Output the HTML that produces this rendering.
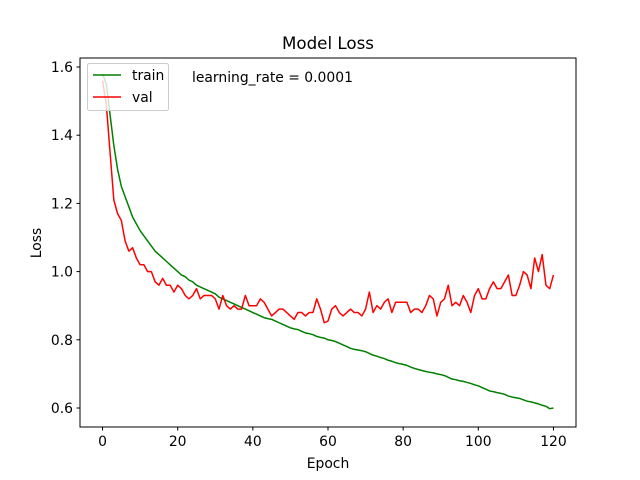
<!DOCTYPE html>
<html><head><meta charset="utf-8"><style>body{margin:0;background:#fff}svg{display:block;font-family:"DejaVu Sans","Liberation Sans",sans-serif}</style></head>
<body>
<svg id="c" width="640" height="480">
<rect width="640" height="480" fill="#fff"/>
<text x="328" y="49" font-size="16.7" text-anchor="middle">Model Loss</text>
<text x="328" y="468" font-size="13.9" text-anchor="middle">Epoch</text>
<text x="41" y="243" font-size="13.9" text-anchor="middle" transform="rotate(-90 41 243)">Loss</text>
<g id="ticks"></g>
<g id="lines"></g>
<rect x="80" y="58" width="496" height="369" fill="none" stroke="#000" stroke-width="1"/>
<g>
<rect x="87.5" y="63.5" width="81" height="47" rx="2" fill="#fff" fill-opacity="0.8" stroke="#ccc"/>
<line x1="93" y1="75" x2="121" y2="75" stroke="#008000" stroke-width="1.5"/>
<text x="132" y="80" font-size="13.9">train</text>
<line x1="93" y1="97" x2="121" y2="97" stroke="#ff0000" stroke-width="1.5"/>
<text x="132" y="102" font-size="13.9">val</text>
</g>
<text x="192" y="82" font-size="13.9">learning_rate = 0.0001</text>
</svg>
<script>
const trainLoss=[1.58,1.55,1.46,1.37,1.30,1.25,1.22,1.19,1.16,1.14,1.12,1.105,1.09,1.075,1.06,1.05,1.04,1.03,1.02,1.01,1.00,0.99,0.985,0.975,0.97,0.96,0.955,0.95,0.945,0.94,0.935,0.925,0.92,0.915,0.91,0.905,0.90,0.895,0.89,0.885,0.88,0.875,0.87,0.865,0.862,0.86,0.855,0.85,0.845,0.84,0.835,0.832,0.83,0.825,0.82,0.818,0.815,0.81,0.807,0.805,0.80,0.798,0.795,0.79,0.785,0.78,0.775,0.772,0.77,0.768,0.765,0.76,0.755,0.752,0.748,0.745,0.74,0.737,0.733,0.73,0.728,0.725,0.72,0.716,0.713,0.71,0.707,0.705,0.703,0.70,0.698,0.695,0.69,0.685,0.683,0.68,0.678,0.675,0.672,0.668,0.665,0.66,0.655,0.65,0.648,0.645,0.643,0.64,0.635,0.632,0.63,0.628,0.624,0.62,0.618,0.615,0.612,0.608,0.605,0.598,0.60];
const valLoss=[1.56,1.49,1.35,1.21,1.17,1.15,1.09,1.06,1.07,1.04,1.02,1.02,1.00,1.00,0.97,0.96,0.98,0.96,0.96,0.94,0.96,0.95,0.93,0.92,0.93,0.95,0.92,0.93,0.93,0.93,0.92,0.89,0.93,0.90,0.89,0.90,0.89,0.89,0.93,0.90,0.90,0.90,0.92,0.91,0.89,0.87,0.88,0.89,0.89,0.88,0.87,0.86,0.88,0.88,0.87,0.88,0.88,0.92,0.89,0.85,0.855,0.89,0.90,0.88,0.87,0.88,0.89,0.88,0.88,0.87,0.89,0.94,0.88,0.90,0.89,0.91,0.92,0.88,0.91,0.91,0.91,0.91,0.88,0.89,0.89,0.88,0.90,0.93,0.92,0.87,0.91,0.92,0.96,0.90,0.91,0.90,0.93,0.91,0.88,0.93,0.95,0.92,0.92,0.95,0.97,0.95,0.95,0.97,0.99,0.93,0.93,0.96,1.00,0.99,0.95,1.04,1.00,1.05,0.96,0.95,0.99];
const xTicks=[0,20,40,60,80,100,120];
const yTicks=[0.6,0.8,1.0,1.2,1.4,1.6];
const NS="http://www.w3.org/2000/svg";
function xs(v){return 80+(v+6)*496/132;}
function ys(v){return 67+(1.6-v)*341;}
const tg=document.getElementById('ticks');
function mk(t,a,p){const e=document.createElementNS(NS,t);for(const k in a)e.setAttribute(k,a[k]);p.appendChild(e);return e;}
xTicks.forEach(v=>{
 const l=mk('line',{x1:xs(v),x2:xs(v),y1:427,y2:430.5,stroke:'#000'},tg);
 
 
 const t=mk('text',{x:xs(v),y:446,'font-size':13.9,'text-anchor':'middle'},tg);t.textContent=v;
 
 
});
yTicks.forEach(v=>{
 const l=mk('line',{x1:76.5,x2:80,y1:ys(v),y2:ys(v),stroke:'#000'},tg);
 
 
 const t=mk('text',{x:73,y:ys(v)+5,'font-size':13.9,'text-anchor':'end'},tg);t.textContent=v.toFixed(1);
 
 
});
const lg=document.getElementById('lines');
function line(d,c,n){const p=mk('polyline',{points:d.map((v,i)=>xs(i)+','+ys(v)).join(' '),fill:'none',stroke:c,'stroke-width':1.5,'stroke-linejoin':'round'},lg);
 
 }
line(trainLoss,'#008000','train-line');
line(valLoss,'#ff0000','val-line');
</script>
</body></html>
